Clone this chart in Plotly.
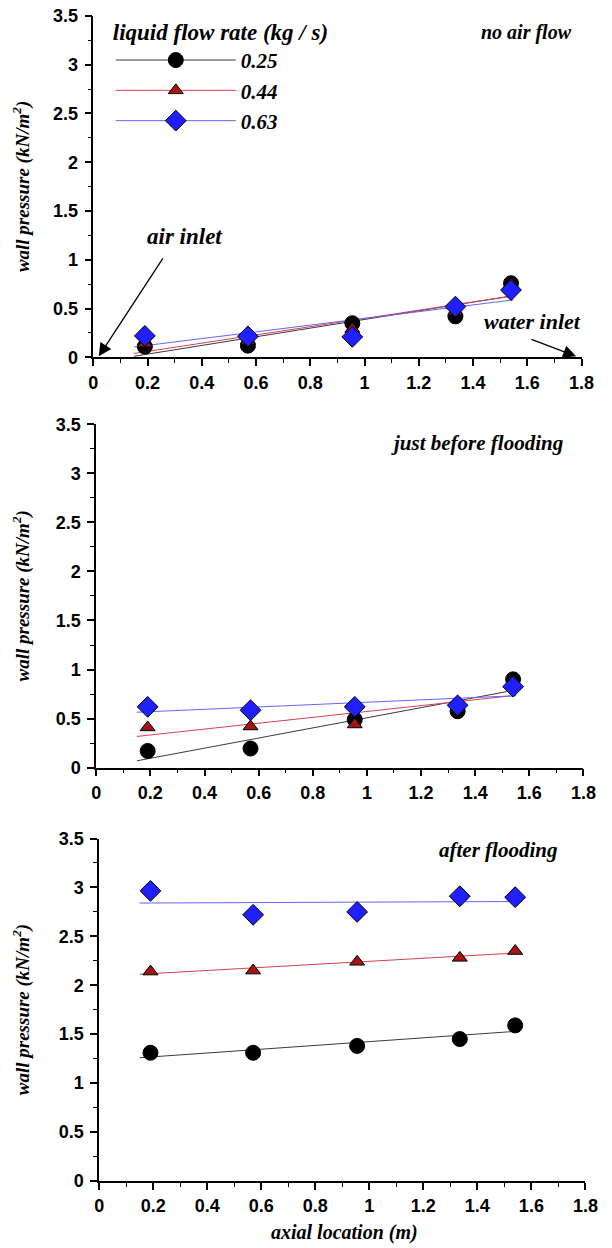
import numpy as np
import plotly.graph_objects as go

# ---------------- data ----------------
x_loc = [0.19, 0.57, 0.955, 1.335, 1.54]
flow_rates = ["0.25", "0.44", "0.63"]
fit_x = [0.15, 1.55]

p_noair = {
    "0.25": [0.11, 0.12, 0.35, 0.42, 0.76],
    "0.44": [0.14, 0.17, 0.29, 0.47, 0.75],
    "0.63": [0.22, 0.215, 0.21, 0.52, 0.69],
}
p_before = {
    "0.25": [0.17, 0.195, 0.49, 0.575, 0.90],
    "0.44": [0.41, 0.42, 0.44, 0.60, 0.87],
    "0.63": [0.62, 0.585, 0.62, 0.635, 0.825],
}
p_after = {
    "0.25": [1.31, 1.31, 1.38, 1.45, 1.59],
    "0.44": [2.14, 2.15, 2.24, 2.28, 2.35],
    "0.63": [2.965, 2.72, 2.75, 2.91, 2.90],
}
panel_labels = ["no air flow", "just before flooding", "after flooding"]

# ---------------- styles ----------------
marker_style = {
    "0.25": dict(symbol="circle", size=15, color="#000000", line=dict(color="#000000", width=1)),
    "0.44": dict(symbol="triangle-up", size=13, color="#a51414", line=dict(color="#000000", width=1)),
    "0.63": dict(symbol="diamond", size=16, color="#1f1fff", line=dict(color="#000000", width=1)),
}
line_color = {"0.25": "#3a3a3a", "0.44": "#d9404f", "0.63": "#6464ff"}

serif = "Liberation Serif, Times New Roman, serif"
sans = "Liberation Sans, Arial, sans-serif"

W, H = 612, 1248
# plot area pixel boxes (left, right, top, bottom)
boxes = [(91, 594, 6, 353), (94, 596, 421, 770), (97, 598, 842, 1190)]

fig = go.Figure()
datasets = [p_noair, p_before, p_after]

# legend entries (no data points, only legend samples)
for fr in flow_rates:
    fig.add_trace(go.Scatter(
        x=[None], y=[None], mode="lines+markers",
        line=dict(color=line_color[fr], width=1), marker=marker_style[fr],
        name=fr, legendgroup=fr, showlegend=True, xaxis="x", yaxis="y"))

for i, data in enumerate(datasets):
    xa = "x" if i == 0 else f"x{i+1}"
    ya = "y" if i == 0 else f"y{i+1}"
    for fr in flow_rates:
        yv = data[fr]
        k, b = np.polyfit(x_loc, yv, 1)
        fy = [k * fx + b for fx in fit_x]
        fig.add_trace(go.Scatter(
            x=fit_x, y=fy, mode="lines",
            line=dict(color=line_color[fr], width=1),
            name=fr, legendgroup=fr, showlegend=False,
            xaxis=xa, yaxis=ya, hoverinfo="skip"))
    for fr in flow_rates:
        fig.add_trace(go.Scatter(
            x=x_loc, y=data[fr], mode="markers", marker=marker_style[fr],
            name=fr, legendgroup=fr, showlegend=False, xaxis=xa, yaxis=ya))

tickfont = dict(family=sans, size=18, color="black", weight="bold")
common_x = dict(range=[0, 1.8], dtick=0.2, tick0=0, ticks="outside", ticklen=7, tickwidth=1.5,
                showline=True, linecolor="black", linewidth=1.5, showgrid=False, zeroline=False,
                minor=dict(dtick=0.1, ticks="outside", ticklen=4, tickwidth=1, tickcolor="black"),
                tickcolor="black", tickfont=tickfont, ticklabelstandoff=1,
                ticklabeloverflow="allow", fixedrange=True)
common_y = dict(range=[0, 3.5], dtick=0.5, tick0=0, ticks="outside", ticklen=7, tickwidth=1.5,
                showline=True, linecolor="black", linewidth=1.5, showgrid=False, zeroline=False,
                minor=dict(dtick=0.25, ticks="outside", ticklen=4, tickwidth=1, tickcolor="black"),
                tickcolor="black", tickfont=tickfont, ticklabelstandoff=3,
                ticklabeloverflow="allow", fixedrange=True)

layout = {}
for i, (l, r, t, bt) in enumerate(boxes):
    sx = "" if i == 0 else str(i + 1)
    layout[f"xaxis{sx}"] = dict(common_x, domain=[l / W, r / W], anchor=f"y{sx}")
    layout[f"yaxis{sx}"] = dict(common_y, domain=[1 - bt / H, 1 - t / H], anchor=f"x{sx}")

fig.update_layout(**layout)

def tfont(size):
    return dict(family=serif, size=size, color="black", weight="bold", style="italic")

ann = []
# y axis titles
for (l, r, t, bt) in boxes:
    ann.append(dict(text="wall pressure (kN/m<sup>2</sup>)", xref="paper", yref="paper",
                    x=17 / W, y=1 - ((t + bt) / 2) / H, textangle=-90, showarrow=False,
                    font=tfont(19), xanchor="center", yanchor="middle"))
# panel labels
label_pos = [(537, 23, 20), (486, 440, 21), (508, 854, 21)]
for txt, (px, py, fs) in zip(panel_labels, label_pos):
    ann.append(dict(text=txt, xref="paper", yref="paper", x=px / W, y=1 - py / H,
                    showarrow=False, font=tfont(fs), xanchor="center", yanchor="middle"))
# inlet labels and arrows
ann.append(dict(text="air inlet", xref="paper", yref="paper", x=185 / W, y=1 - 230 / H,
                showarrow=False, font=tfont(23), xanchor="center", yanchor="middle"))
ann.append(dict(text="water inlet", xref="paper", yref="paper", x=543 / W, y=1 - 317 / H,
                showarrow=False, font=tfont(22), xanchor="center", yanchor="middle"))
ann.append(dict(text="", x=0.02, y=0.01, xref="x", yref="y", ax=0.26, ay=1.03,
                axref="x", ayref="y", showarrow=True, arrowhead=2, arrowsize=2.0,
                arrowwidth=1.3, arrowcolor="black"))
ann.append(dict(text="", x=1.78, y=0.01, xref="x", yref="y", ax=1.61, ay=0.19,
                axref="x", ayref="y", showarrow=True, arrowhead=2, arrowsize=2.0,
                arrowwidth=1.3, arrowcolor="black"))
# x axis title
ann.append(dict(text="axial location (m)", xref="paper", yref="paper", x=350 / W, y=1 - 1242 / H,
                showarrow=False, font=tfont(20), xanchor="center", yanchor="middle"))

fig.update_layout(
    width=W, height=H, margin=dict(l=0, r=0, t=0, b=0),
    paper_bgcolor="white", plot_bgcolor="rgba(0,0,0,0)",
    annotations=ann,
    showlegend=True,
    legend=dict(x=109 / W, y=1.0, xanchor="left", yanchor="top",
                bgcolor="rgba(0,0,0,0)", borderwidth=0,
                title=dict(text="liquid flow rate (kg / s)", font=tfont(23), side="top"),
                font=tfont(21), itemsizing="trace", itemwidth=120, tracegroupgap=0),
)

fig.write_html("out.html")
